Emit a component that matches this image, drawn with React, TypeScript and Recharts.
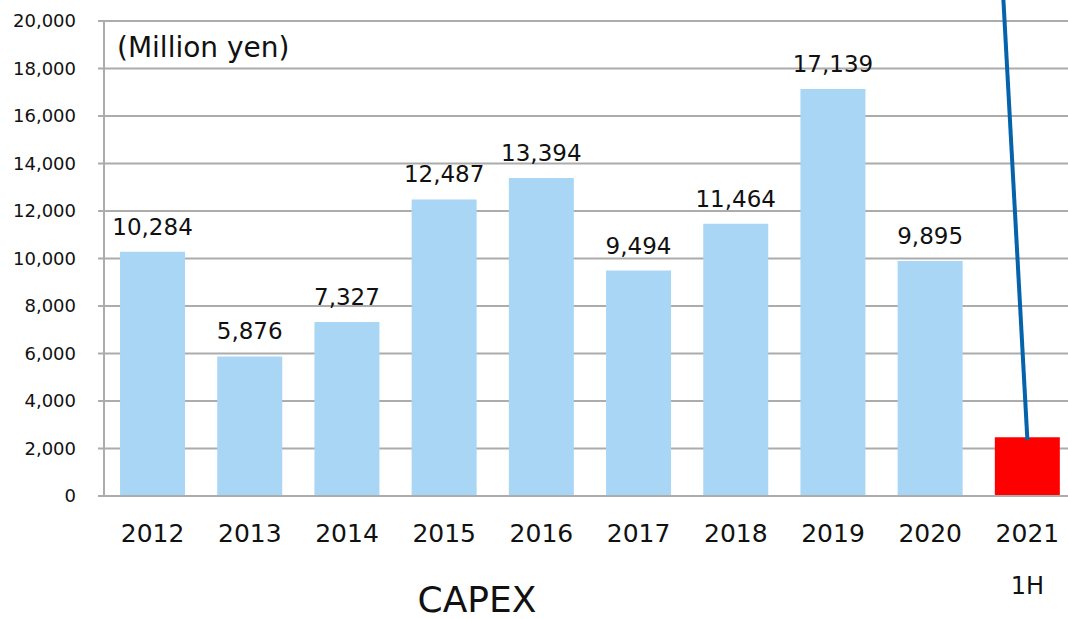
import { Bar, BarChart, CartesianGrid, Cell, LabelList, ReferenceLine, XAxis, YAxis } from "recharts";

const YEARS = ["2012", "2013", "2014", "2015", "2016", "2017", "2018", "2019", "2020", "2021"];
const SUB_LABELS = ["", "", "", "", "", "", "", "", "", "1H"];
const CAPEX = [10284, 5876, 7327, 12487, 13394, 9494, 11464, 17139, 9895, 2470];
const SHOW_LABEL = [true, true, true, true, true, true, true, true, true, false];
const Y_TICKS = [0, 2000, 4000, 6000, 8000, 10000, 12000, 14000, 16000, 18000, 20000];

// callout line rising from the 2021 bar, off the top of the chart
const CALLOUT_YEAR = "2021";
const CALLOUT_FROM = 2350;
const CALLOUT_TO = 22000;
const CALLOUT_TILT = 0.0545; // px left per px up

const BLUE = "#a9d6f5";
const RED = "#ff0000";
const GRID = "#acacac";
const FONT = "'DejaVu Sans', Verdana, sans-serif";

const fmt = (v: number) => v.toLocaleString("en-US");

const data = YEARS.map((year, i) => ({
  year,
  value: CAPEX[i],
  label: SHOW_LABEL[i] ? fmt(CAPEX[i]) : "",
}));

const YearTick = (props: any) => {
  const { x, y, payload, index } = props;
  const sub = SUB_LABELS[index];
  return (
    <g>
      <text x={x} y={y + 46} textAnchor="middle" fontSize={25} fill="#111" fontFamily={FONT}>
        {payload.value}
      </text>
      {sub && (
        <text x={x} y={y + 98} textAnchor="middle" fontSize={24} fill="#111" fontFamily={FONT}>
          {sub}
        </text>
      )}
    </g>
  );
};

const ValueLabel = (props: any) => {
  const { x, y, width, value } = props;
  if (!value) return null;
  return (
    <text x={x + width / 2} y={y - 17} textAnchor="middle" fontSize={23} fill="#111" fontFamily={FONT}>
      {value}
    </text>
  );
};

const TiltedLine = (props: any) => {
  const { x1, y1, x2, y2 } = props;
  // lower end sits on the bar; lean the upper end to the left
  const lowY = Math.max(y1, y2);
  const highY = Math.min(y1, y2);
  const lowX = y1 >= y2 ? x1 : x2;
  const highX = lowX - (lowY - highY) * CALLOUT_TILT;
  return <line x1={lowX} y1={lowY} x2={highX} y2={highY} stroke="#0563ab" strokeWidth={4} />;
};

export default function App() {
  return (
    <div
      style={{
        position: "absolute",
        left: 0,
        top: 0,
        width: 1068,
        height: 619,
        overflow: "hidden",
        background: "#fff",
        fontFamily: FONT,
      }}
    >
      <BarChart
        width={1080}
        height={619}
        data={data}
        margin={{ top: 21, right: 4, bottom: 0, left: 0 }}
        barCategoryGap="16.5%"
      >
        <CartesianGrid vertical={false} stroke={GRID} strokeWidth={2} />
        <XAxis
          dataKey="year"
          height={123}
          tickLine={false}
          tickSize={0}
          tickMargin={0}
          axisLine={{ stroke: GRID, strokeWidth: 2 }}
          tick={<YearTick />}
          interval={0}
        />
        <YAxis
          width={104}
          domain={[0, 20000]}
          ticks={Y_TICKS}
          interval={0}
          tickFormatter={fmt}
          tickSize={6}
          tickMargin={22}
          tickLine={{ stroke: GRID, strokeWidth: 2 }}
          axisLine={{ stroke: GRID, strokeWidth: 2 }}
          tick={{ fontSize: 18, fill: "#111", fontFamily: FONT }}
        />
        <Bar dataKey="value" isAnimationActive={false}>
          {data.map((d, i) => (
            <Cell key={d.year} fill={i === data.length - 1 ? RED : BLUE} />
          ))}
          <LabelList dataKey="label" content={<ValueLabel />} />
        </Bar>
        <ReferenceLine
          segment={[
            { x: CALLOUT_YEAR, y: CALLOUT_FROM },
            { x: CALLOUT_YEAR, y: CALLOUT_TO },
          ]}
          ifOverflow="visible"
          shape={TiltedLine}
        />
      </BarChart>
      <div
        style={{
          position: "absolute",
          left: 117,
          top: 32,
          fontSize: 28,
          lineHeight: "32px",
          color: "#111",
          whiteSpace: "nowrap",
        }}
      >
        (Million yen)
      </div>
      <div
        style={{
          position: "absolute",
          left: 377,
          width: 200,
          top: 580,
          fontSize: 36,
          lineHeight: "40px",
          textAlign: "center",
          color: "#111",
        }}
      >
        CAPEX
      </div>
    </div>
  );
}
